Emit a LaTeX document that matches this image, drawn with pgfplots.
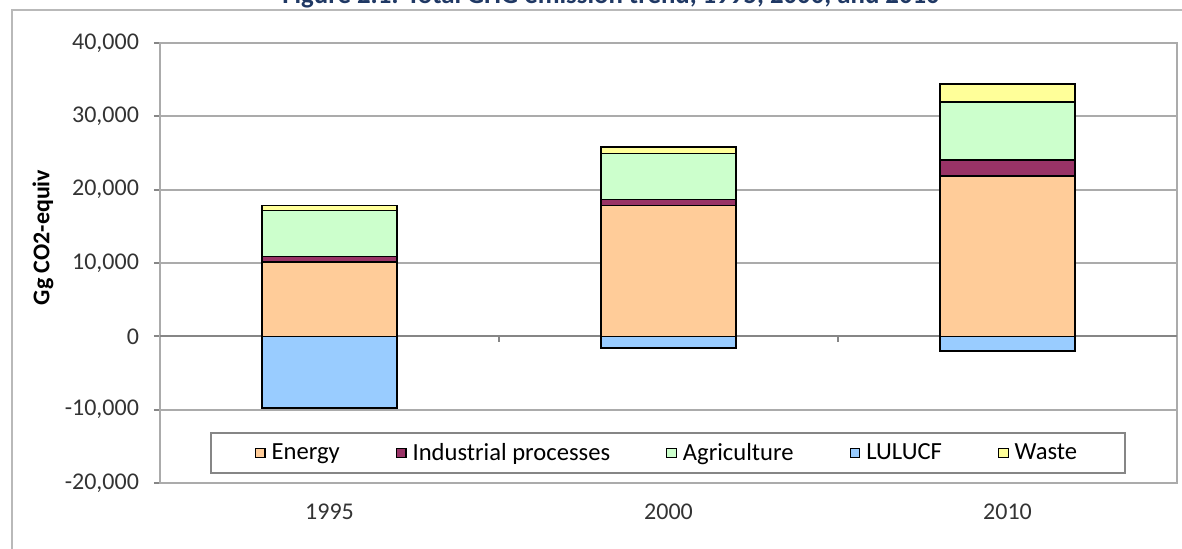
\documentclass[border=0pt]{standalone}
\usepackage{pgfplots}
\pgfplotsset{compat=1.18}
\usepackage{fontspec}
\setmainfont{Carlito}

\definecolor{energy}{HTML}{FFCC99}
\definecolor{indus}{HTML}{993366}
\definecolor{agri}{HTML}{CCFFCC}
\definecolor{lulu}{HTML}{99CCFF}
\definecolor{waste}{HTML}{FFFF99}
\definecolor{titleblue}{HTML}{1F3864}
\definecolor{gridgray}{HTML}{ABABAB}
\definecolor{axisgray}{HTML}{868686}

\pgfplotsset{
  ghg/.style={
    at={(80bp,33bp)}, anchor=south west,
    scale only axis, width=508.5bp, height=220bp,
    xmin=-0.5, xmax=2.5, ymin=-20000, ymax=40000,
    ytick={-20000,-10000,...,40000},
    xtick={0,1,2}, xticklabels={1995,2000,2010},
  },
  sq/.style={legend image code/.code={
    \draw[##1, line width=0.6bp] (0bp,-2.4bp) rectangle (4.8bp,2.4bp);}},
  bars/.style={draw=black, line width=0.75bp, sq},
}

\begin{document}
\begin{tikzpicture}
% chart frame and (cut-off) title
\draw[gray!55, line width=1bp] (6bp,0) -- (6bp,269.5bp) -- (591bp,269.5bp);
\node[anchor=base, font=\bfseries\fontsize{13.4bp}{16bp}\selectfont, text=titleblue]
  at (305.5bp,272.5bp) {Figure 2.1: Total GHG emission trend, 1995, 2000, and 2010};

\begin{axis}[ghg,
  ybar, bar width=67.5bp, bar shift=0pt,
  axis line style={gridgray, line width=1bp},
  ymajorgrids, grid style={gridgray, line width=1bp},
  tick align=outside, ytick pos=left, major tick length=3bp,
  y tick style={axisgray, line width=1bp},
  x tick style={draw=none},
  scaled y ticks=false,
  /pgf/number format/1000 sep={,},
  /pgf/number format/assume math mode=true,
  tick label style={font=\fontsize{12bp}{14bp}\selectfont, text=black!80},
  xticklabel style={yshift=-4bp},
  yticklabel style={xshift=-4bp},
  ylabel={Gg CO2-equiv},
  ylabel style={font=\bfseries\fontsize{12bp}{14bp}\selectfont,
    at={(axis description cs:-0.115,0.558)}, anchor=center},
  legend columns=5,
  legend style={at={(axis description cs:0.4995,0.068)}, anchor=center,
    draw=axisgray, line width=1bp, inner ysep=3bp, inner xsep=22bp,
    font=\fontsize{12.3bp}{14bp}\selectfont,
    /tikz/every odd column/.append style={column sep=1bp},
    /tikz/every even column/.append style={column sep=26bp}},
]
\draw[axisgray, line width=1bp] (axis cs:-0.5,0) -- (axis cs:2.5,0);
\draw[axisgray, line width=1bp] (axis cs:0.5,0) -- ([yshift=-3bp]axis cs:0.5,0);
\draw[axisgray, line width=1bp] (axis cs:1.5,0) -- ([yshift=-3bp]axis cs:1.5,0);
\addlegendimage{fill=energy, bars}
\addlegendimage{fill=indus, bars}
\addlegendimage{fill=agri, bars}
\addplot[fill=lulu, bars] coordinates {(0,-9770) (1,-1590) (2,-2030)};
\addlegendimage{fill=waste, bars}
\legend{Energy, Industrial processes, Agriculture, LULUCF, Waste}
\end{axis}

\begin{axis}[ghg, ybar stacked, bar width=67.5bp, bar shift=0pt, hide axis]
\addplot[fill=energy, bars] coordinates {(0,10140) (1,17860) (2,21890)};
\addplot[fill=indus, bars] coordinates {(0,770) (1,780) (2,2160)};
\addplot[fill=agri, bars] coordinates {(0,6230) (1,6270) (2,7900)};
\addplot[fill=waste, bars] coordinates {(0,730) (1,910) (2,2430)};
\end{axis}

\pgfresetboundingbox
\path[use as bounding box] (0,0) rectangle (591bp,274.5bp);
\end{tikzpicture}
\end{document}
